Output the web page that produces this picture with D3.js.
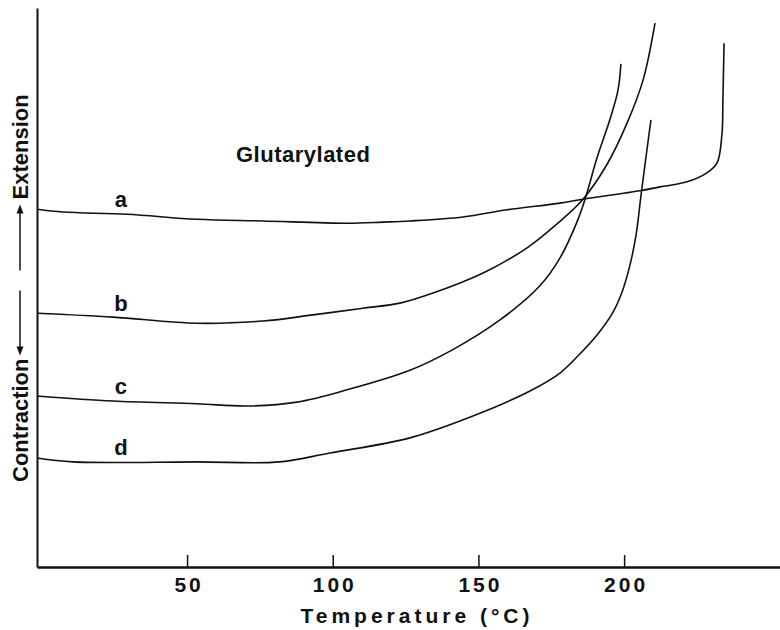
<!DOCTYPE html>
<html>
<head>
<meta charset="utf-8">
<script src="https://cdn.jsdelivr.net/npm/d3@7"></script>
<style>
  body { margin: 0; background: #fff; }
  text { font-family: "Liberation Sans", Arial, sans-serif; font-weight: bold; fill: #111; }
</style>
</head>
<body>
<script>
// Temperature (°C) and length change (arbitrary units)
var tempA = [-1.5, 7.4, 29.4, 53.4, 76.1, 104.9, 117.2, 126.5, 144.7, 159.8, 178.0, 185.9, 205.4, 212.3, 221.6, 228.4, 231.9, 233.6, 233.9, 234.3];
var lenA  = [64.0, 63.5, 63.1, 62.2, 61.9, 61.5, 61.7, 61.9, 62.6, 63.9, 65.1, 65.8, 67.3, 68.0, 68.9, 70.5, 72.3, 77.6, 83.5, 93.7];

var tempB = [-1.5, 24.6, 53.4, 76.1, 93.2, 110.4, 123.1, 134.4, 151.6, 166.7, 177.0, 185.9, 194.1, 201.0, 206.5, 210.6];
var lenB  = [45.4, 44.7, 43.6, 44.0, 45.1, 46.3, 47.2, 49.0, 52.6, 57.1, 61.4, 65.8, 72.0, 79.4, 87.1, 97.3];

var tempC = [-1.5, 24.6, 53.4, 70.6, 87.7, 104.9, 126.5, 140.9, 157.4, 171.1, 178.0, 183.8, 186.6, 190.7, 195.1, 197.9, 198.9];
var lenC  = [30.6, 29.7, 29.2, 28.8, 29.5, 31.7, 35.2, 38.8, 44.2, 50.3, 55.3, 61.7, 65.8, 73.2, 80.0, 85.3, 90.0];

var tempD = [-1.5, 10.9, 53.4, 81.9, 99.0, 126.5, 150.5, 167.7, 178.0, 184.8, 190.7, 196.2, 199.3, 202.0, 204.1, 205.8, 207.5, 209.2];
var lenD  = [19.5, 18.8, 18.8, 18.8, 20.4, 23.1, 27.5, 31.5, 34.7, 38.1, 41.5, 45.6, 49.2, 54.0, 59.4, 66.5, 73.3, 80.0];

var curveNames = ["a", "b", "c", "d"];
var tickTemps = [50, 100, 150, 200];
var labelTemp = 28;

var svg = d3.select("body").append("svg")
    .attr("width", 780)
    .attr("height", 630);

var x = d3.scaleLinear().domain([-1.5, 253.5]).range([37, 780]);
var y = d3.scaleLinear().domain([0, 100]).range([567, 8]);

var series = [tempA, tempB, tempC, tempD].map(function(ts, i) {
  var vs = [lenA, lenB, lenC, lenD][i];
  return { name: curveNames[i], points: ts.map(function(t, j) { return [t, vs[j]]; }) };
});

var line = d3.line()
    .x(function(d) { return x(d[0]); })
    .y(function(d) { return y(d[1]); })
    .curve(d3.curveCatmullRom.alpha(0.5));

svg.selectAll(".trace")
    .data(series)
  .enter().append("path")
    .attr("class", "trace")
    .attr("d", function(d) { return line(d.points); })
    .attr("fill", "none")
    .attr("stroke", "#111")
    .attr("stroke-width", 1.6);

// value of a trace at a given temperature (linear between read points)
function valueAt(pts, t) {
  for (var i = 1; i < pts.length; i++) {
    if (pts[i][0] >= t) {
      var f = (t - pts[i - 1][0]) / (pts[i][0] - pts[i - 1][0]);
      return pts[i - 1][1] + f * (pts[i][1] - pts[i - 1][1]);
    }
  }
  return pts[pts.length - 1][1];
}

svg.selectAll(".lab")
    .data(series)
  .enter().append("text")
    .attr("class", "lab")
    .attr("x", x(labelTemp) - 2)
    .attr("y", function(d) { return y(valueAt(d.points, labelTemp)) - 7; })
    .attr("text-anchor", "middle")
    .style("font-size", "22px")
    .text(function(d) { return d.name; });

// x axis, ticks pointing inward
var xAxis = svg.append("g")
    .attr("transform", "translate(0,567)")
    .call(d3.axisBottom(x).tickValues(tickTemps).tickSizeInner(-12).tickSizeOuter(0).tickPadding(10));
xAxis.select(".domain").attr("stroke", "#111").attr("stroke-width", 2.5);
xAxis.selectAll(".tick line").attr("stroke", "#111").attr("stroke-width", 1.5);
xAxis.selectAll(".tick text")
    .attr("fill", "#111")
    .attr("dx", "1.5px")
    .style("font-family", '"Liberation Sans", Arial, sans-serif')
    .style("font-weight", "bold")
    .style("font-size", "21px")
    .style("letter-spacing", "3px");

// y axis, no ticks
var yAxis = svg.append("g")
    .attr("transform", "translate(37,0)")
    .call(d3.axisLeft(y).tickValues([]).tickSizeOuter(0));
yAxis.select(".domain").attr("stroke", "#111").attr("stroke-width", 2);

svg.append("text")
    .attr("x", 417)
    .attr("y", 623)
    .attr("text-anchor", "middle")
    .style("font-size", "21px")
    .style("letter-spacing", "4px")
    .text("Temperature  (\u00B0C)");

svg.append("text")
    .attr("x", 236)
    .attr("y", 162)
    .style("font-size", "22px")
    .style("letter-spacing", "0.5px")
    .text("Glutarylated");

// rotated y label with arrows
var yl = svg.append("g")
    .attr("transform", "translate(28,287.5) rotate(-90)");

yl.append("text")
    .attr("x", -71)
    .attr("text-anchor", "end")
    .style("font-size", "22px")
    .text("Contraction");

yl.append("text")
    .attr("x", 88)
    .style("font-size", "22px")
    .text("Extension");

yl.append("line").attr("x1", -60).attr("x2", -3).attr("y1", -8).attr("y2", -8)
    .attr("stroke", "#111").attr("stroke-width", 1.5);
yl.append("path").attr("d", "M-68,-8L-59,-11.5L-59,-4.5Z").attr("fill", "#111");

yl.append("line").attr("x1", 17).attr("x2", 75).attr("y1", -8).attr("y2", -8)
    .attr("stroke", "#111").attr("stroke-width", 1.5);
yl.append("path").attr("d", "M83,-8L74,-11.5L74,-4.5Z").attr("fill", "#111");
</script>
</body>
</html>
